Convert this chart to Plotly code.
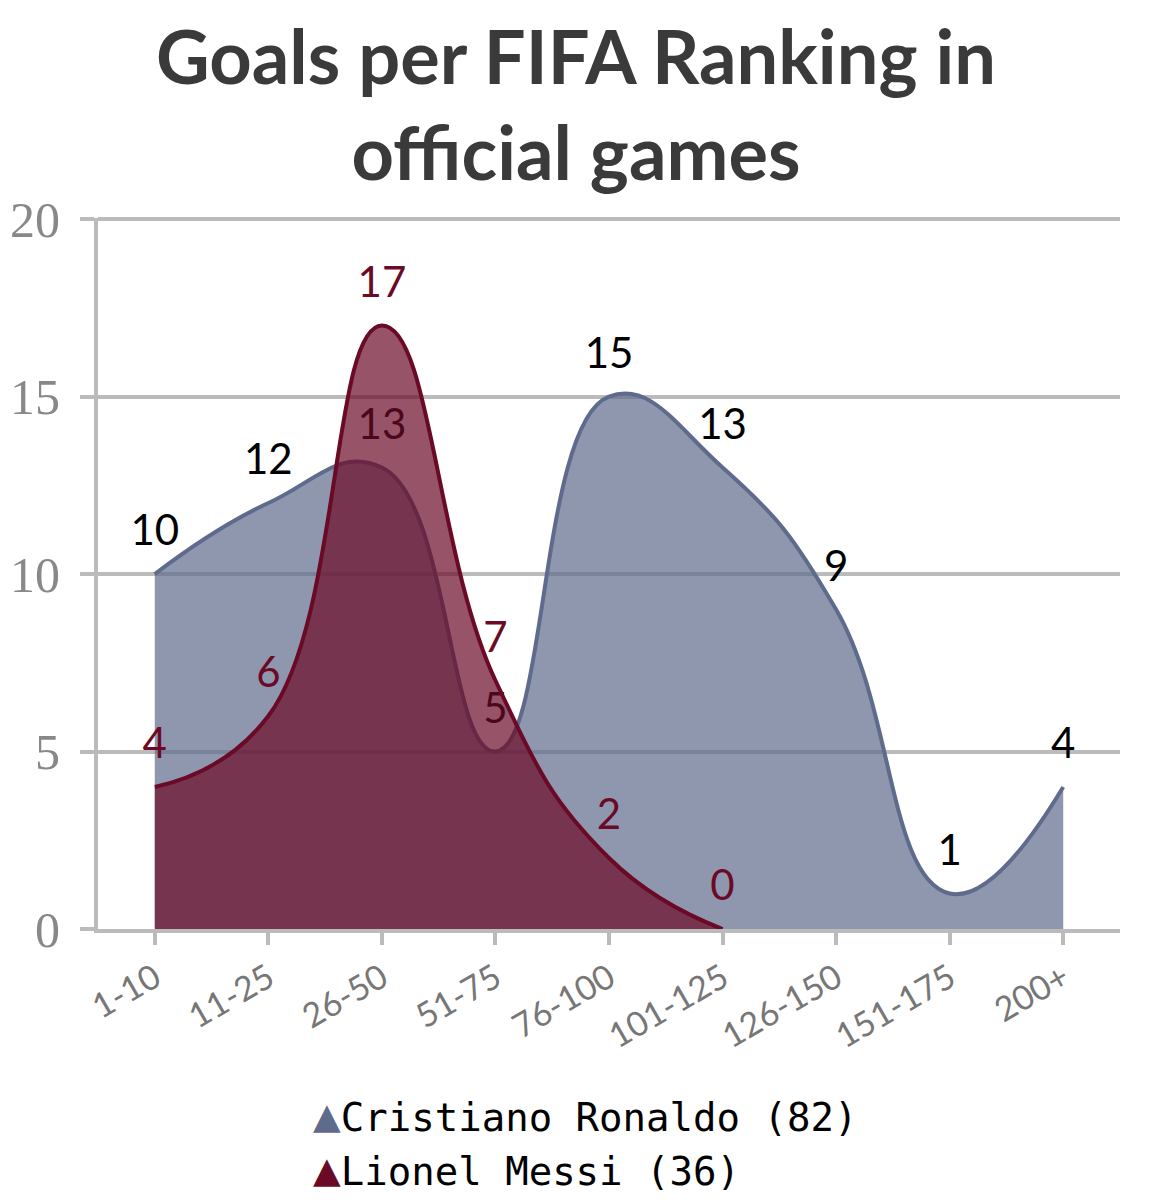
import plotly.graph_objects as go

categories = ["1-10", "11-25", "26-50", "51-75", "76-100", "101-125", "126-150", "151-175", "200+"]
ronaldo = [10, 12, 13, 5, 15, 13, 9, 1, 4]
messi = [4, 6, 17, 7, 2, 0]

ron_line = "#5f6b8c"
ron_fill = "rgba(95,107,140,0.7)"
mes_line = "#6b0a26"
mes_fill = "rgba(107,10,38,0.7)"

label_font = "Lato, 'Open Sans', sans-serif"
mono = "DejaVu Sans Mono, monospace"

fig = go.Figure()

fig.add_trace(go.Scatter(
    x=categories, y=ronaldo, mode="lines+markers+text",
    line=dict(color=ron_line, width=4, shape="spline", smoothing=1.3),
    fill="tozeroy", fillcolor=ron_fill,
    marker=dict(size=28, opacity=0),
    text=[str(v) for v in ronaldo], textposition="top center",
    textfont=dict(size=42, color="#000000", family=label_font),
    showlegend=False, hoverinfo="skip",
))
fig.add_trace(go.Scatter(
    x=categories[:len(messi)], y=messi, mode="lines+markers+text",
    line=dict(color=mes_line, width=4, shape="spline", smoothing=1.3),
    fill="tozeroy", fillcolor=mes_fill,
    marker=dict(size=28, opacity=0),
    text=[str(v) for v in messi], textposition="top center",
    textfont=dict(size=42, color=mes_line, family=label_font),
    showlegend=False, hoverinfo="skip",
))


def legend_name(color, label):
    return f'<span style="color:{color};font-size:46px">▲</span>{label}'


fig.add_trace(go.Scatter(
    x=[None], y=[None], mode="markers",
    marker=dict(size=1, color="rgba(0,0,0,0)"),
    name=legend_name(ron_line, f"Cristiano Ronaldo ({sum(ronaldo)})"),
))
fig.add_trace(go.Scatter(
    x=[None], y=[None], mode="markers",
    marker=dict(size=1, color="rgba(0,0,0,0)"),
    name=legend_name(mes_line, f"Lionel Messi ({sum(messi)})"),
))

fig.update_layout(
    width=1152, height=1200,
    paper_bgcolor="white", plot_bgcolor="white",
    margin=dict(l=90, r=40, t=210, b=279, autoexpand=False),
    title=dict(
        text="<b>Goals per FIFA Ranking in<br>official games</b>",
        x=568 / 1152, xanchor="center", xref="container",
        y=1 - 76 / 1200, yanchor="middle", yref="container",
        font=dict(size=74, color="#3a3a3a", family=label_font),
    ),
    legend=dict(
        x=0.46, xanchor="center", y=-0.218, yanchor="top",
        orientation="v",
        font=dict(size=39, color="#000000", family=mono),
        itemwidth=30, tracegroupgap=0,
    ),
    xaxis=dict(
        type="category", range=[-0.5, 8.5],
        showgrid=False, showline=True, linecolor="#bbbbbb", linewidth=4,
        ticks="outside", ticklen=12, tickwidth=4, tickcolor="#bbbbbb",
        tickangle=-30,
        tickfont=dict(size=34, color="#777777", family=label_font),
        zeroline=False,
    ),
    yaxis=dict(
        range=[0, 20.03], tickvals=[0, 5, 10, 15, 20],
        showgrid=True, gridcolor="#bbbbbb", gridwidth=4,
        showline=True, linecolor="#bbbbbb", linewidth=4,
        ticks="outside", ticklen=14, tickwidth=4, tickcolor="#bbbbbb",
        tickfont=dict(size=50, color="#888888", family="'Liberation Serif', serif"),
        ticklabelstandoff=10,
        zeroline=False,
    ),
)

fig.write_html("out.html")
